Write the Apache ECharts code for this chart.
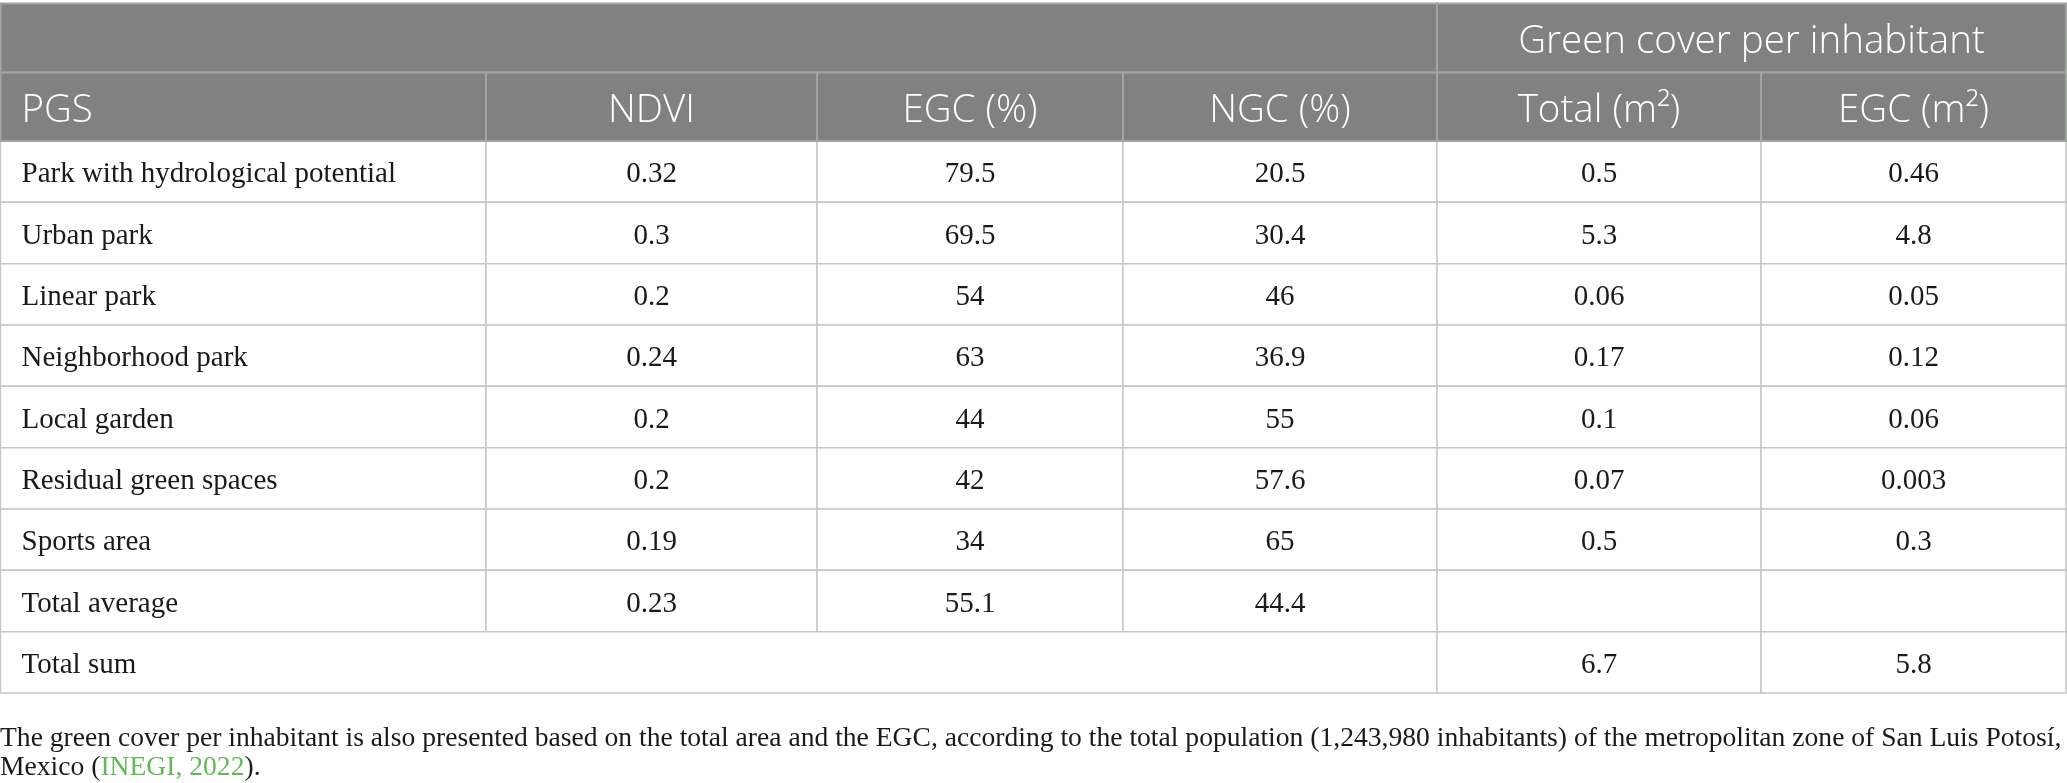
<!DOCTYPE html>
<html>
<head>
<meta charset="utf-8">
<script src="https://cdn.jsdelivr.net/npm/echarts@6/dist/echarts.min.js"></script>
<style>
  html, body { margin: 0; padding: 0; background: #fff; }
  #main { width: 2067px; height: 783px; }
</style>
</head>
<body>
<div id="main"></div>
<script>
// table content
const groupHeader = 'Green cover per inhabitant';
const columns = ['PGS', 'NDVI', 'EGC (%)', 'NGC (%)', 'Total (m²)', 'EGC (m²)'];
const parks = ['Park with hydrological potential', 'Urban park', 'Linear park', 'Neighborhood park',
  'Local garden', 'Residual green spaces', 'Sports area', 'Total average', 'Total sum'];
const ndvi = [0.32, 0.3, 0.2, 0.24, 0.2, 0.2, 0.19, 0.23];
const egcPct = [79.5, 69.5, 54, 63, 44, 42, 34, 55.1];
const ngcPct = [20.5, 30.4, 46, 36.9, 55, 57.6, 65, 44.4];
const totalM2 = [0.5, 5.3, 0.06, 0.17, 0.1, 0.07, 0.5, null, 6.7];
const egcM2 = [0.46, 4.8, 0.05, 0.12, 0.06, 0.003, 0.3, null, 5.8];
const note = 'The green cover per inhabitant is also presented based on the total area and the EGC, according to the total population (1,243,980 inhabitants) of the metropolitan zone of San Luis Potosí,';
const noteEnd = ['Mexico (', 'INEGI, 2022', ').'];

// layout: column edges and row edges in page pixels
const colEdges = [0.5, 486, 817, 1123, 1437, 1761, 2066];
const rowEdges = [3.5, 72.5, 141];
for (let i = 0; i < parks.length; i++) rowEdges.push(141 + (693 - 141) * (i + 1) / parks.length);

const fmt = v => (v === null || v === undefined) ? '' : String(v);

// cells: [col0, col1, row0, row1, text, kind]  kind 0 = header, 1 = body, 2 = left aligned, 3 = left header
const cells = [];
cells.push([0, 3, 0, 0, '', 0]);
cells.push([4, 5, 0, 0, groupHeader, 0]);
columns.forEach((c, j) => cells.push([j, j, 1, 1, c, j === 0 ? 3 : 0]));
parks.forEach((name, i) => {
  const r = i + 2;
  if (i < ndvi.length) {
    cells.push([0, 0, r, r, name, 2]);
    cells.push([1, 1, r, r, fmt(ndvi[i]), 1]);
    cells.push([2, 2, r, r, fmt(egcPct[i]), 1]);
    cells.push([3, 3, r, r, fmt(ngcPct[i]), 1]);
  } else {
    cells.push([0, 3, r, r, name, 2]);
  }
  cells.push([4, 4, r, r, fmt(totalM2[i]), 1]);
  cells.push([5, 5, r, r, fmt(egcM2[i]), 1]);
});
const isHeader = k => k === 0 || k === 3;
// draw body first so header strokes sit on top
const ordered = cells.filter(c => !isHeader(c[5])).concat(cells.filter(c => isHeader(c[5])));

const chart = echarts.init(document.getElementById('main'), null, { renderer: 'canvas' });

function renderCell(params, api) {
  const c0 = api.value(0), c1 = api.value(1), r0 = api.value(2), r1 = api.value(3);
  const kind = api.value(5);
  const text = ordered[params.dataIndex][4];
  const p0 = api.coord([colEdges[c0], rowEdges[r0]]);
  const p1 = api.coord([colEdges[c1 + 1], rowEdges[r1 + 1]]);
  const x = p0[0], y = p0[1], w = p1[0] - p0[0], h = p1[1] - p0[1];
  const header = isHeader(kind);
  const left = kind === 2 || kind === 3;
  return {
    type: 'group',
    children: [{
      type: 'rect',
      shape: { x: x, y: y, width: w, height: h },
      style: {
        fill: header ? '#808180' : '#fff',
        stroke: header ? '#a2a4a2' : '#c6c6c6',
        lineWidth: header ? 2 : 1.5
      }
    }, {
      type: 'text',
      x: left ? x + 21 : x + w / 2,
      y: y + h / 2 + (header ? 4 : 3),
      style: {
        text: text,
        align: left ? 'left' : 'center',
        verticalAlign: 'middle',
        fill: header ? '#fff' : '#1a1a1a',
        font: header ? '300 38.5px "Open Sans", "Noto Sans", sans-serif'
                     : '29px "Liberation Serif", "DejaVu Serif", serif'
      }
    }]
  };
}

chart.setOption({
  animation: false,
  backgroundColor: '#fff',
  title: {
    left: 0,
    top: 724,
    padding: 0,
    text: note + '\n' + noteEnd[0] + '{g|' + noteEnd[1] + '}' + noteEnd[2],
    textStyle: {
      fontFamily: '"Liberation Serif", serif',
      fontSize: 27.6,
      fontWeight: 'normal',
      color: '#1a1a1a',
      lineHeight: 29,
      rich: {
        g: { color: '#62b957', fontFamily: '"Liberation Serif", serif', fontSize: 27.6, lineHeight: 29 }
      }
    }
  },
  grid: { left: 0, right: 0, top: 0, bottom: 0 },
  xAxis: { type: 'value', min: 0, max: 2067, show: false },
  yAxis: { type: 'value', min: 0, max: 783, inverse: true, show: false },
  series: [{
    type: 'custom',
    renderItem: renderCell,
    encode: { x: 0, y: 2 },
    clip: false,
    data: ordered.map(c => [c[0], c[1], c[2], c[3], c[4], c[5]])
  }]
});
</script>
</body>
</html>
